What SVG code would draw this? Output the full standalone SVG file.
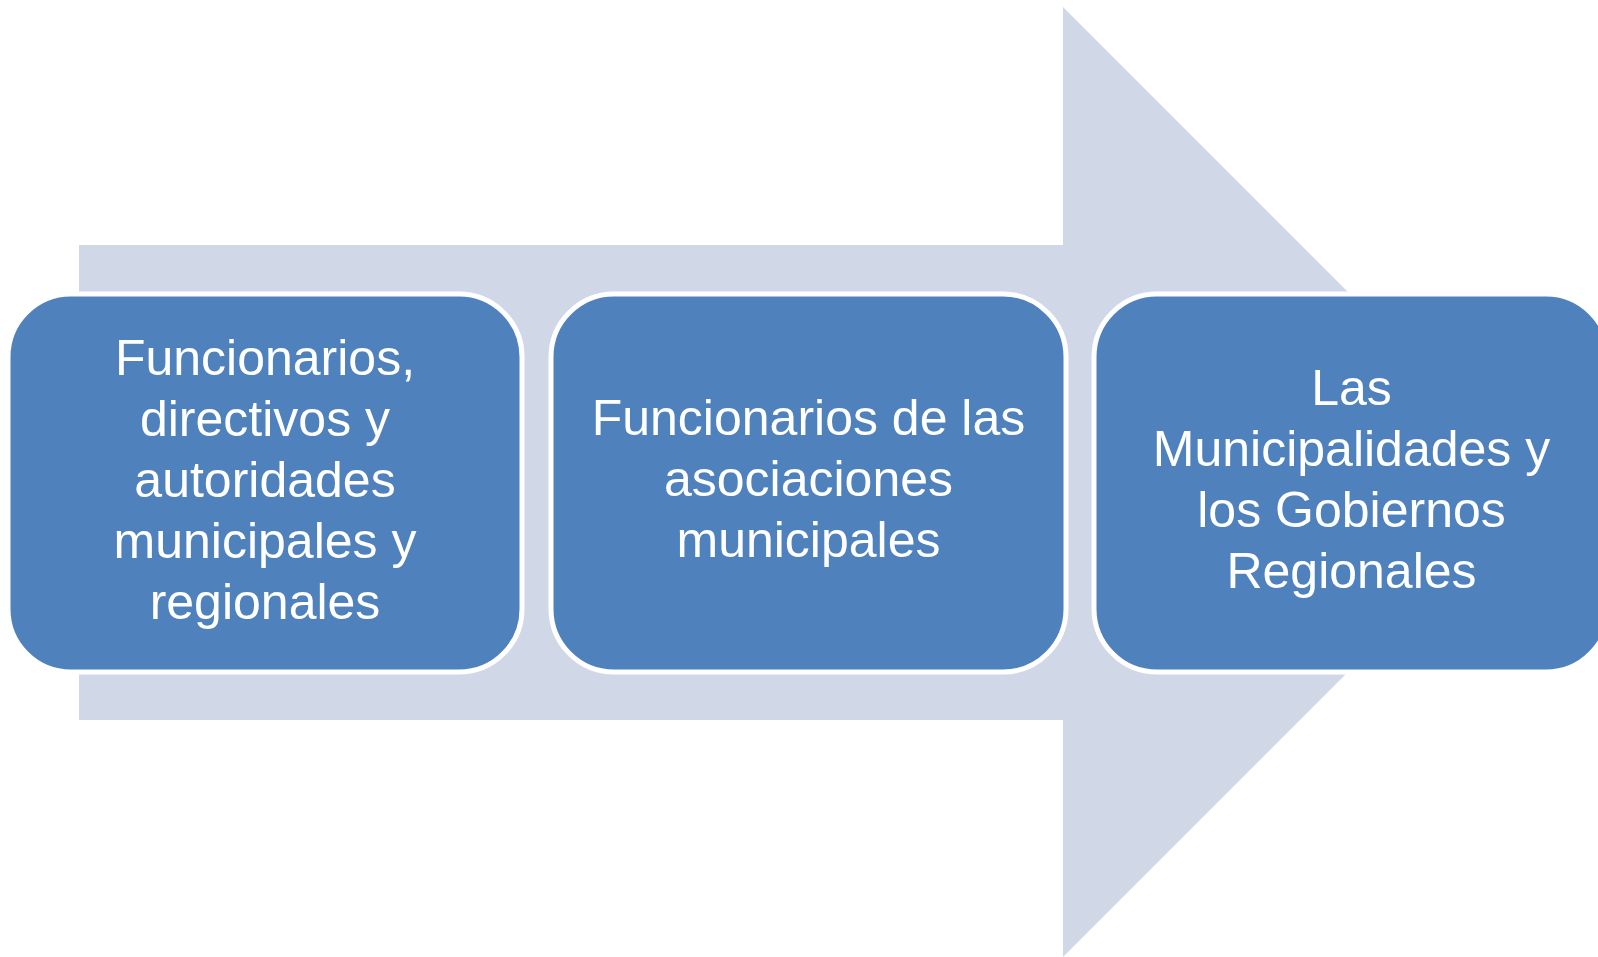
<svg xmlns="http://www.w3.org/2000/svg" width="1598" height="957" viewBox="0 0 1598 957">
<style>
.bg{fill:#FFFFFF}
.arrow{fill:#D0D8E8}
.box{fill:#4F81BD;stroke:#FFFFFF;stroke-width:5}
.lbl{font-family:"Liberation Sans",Arial,sans-serif;font-size:50px;fill:#FFFFFF;text-anchor:middle}
</style>
<rect class="bg" x="0" y="0" width="1598" height="957"/>
<g id="connectors">
<polygon id="flow-arrow" class="arrow" points="79,245 1063,245 1063,7 1538,482 1063,957 1063,720 79,720"/>
</g>
<g id="node1">
<rect class="box" x="8" y="294" width="514" height="378" rx="63" ry="63"/>
<text class="lbl"><tspan x="265" y="375">Funcionarios,</tspan><tspan x="265" y="436">directivos y</tspan><tspan x="265" y="497">autoridades</tspan><tspan x="265" y="558">municipales y</tspan><tspan x="265" y="619">regionales</tspan></text>
</g>
<g id="node2">
<rect class="box" x="551" y="294" width="515" height="378" rx="63" ry="63"/>
<text class="lbl"><tspan x="808.5" y="435">Funcionarios de las</tspan><tspan x="808.5" y="496">asociaciones</tspan><tspan x="808.5" y="557">municipales</tspan></text>
</g>
<g id="node3">
<rect class="box" x="1094" y="294" width="515" height="378" rx="63" ry="63"/>
<text class="lbl"><tspan x="1351.5" y="405">Las</tspan><tspan x="1351.5" y="466">Municipalidades y</tspan><tspan x="1351.5" y="527">los Gobiernos</tspan><tspan x="1351.5" y="588">Regionales</tspan></text>
</g>
</svg>
